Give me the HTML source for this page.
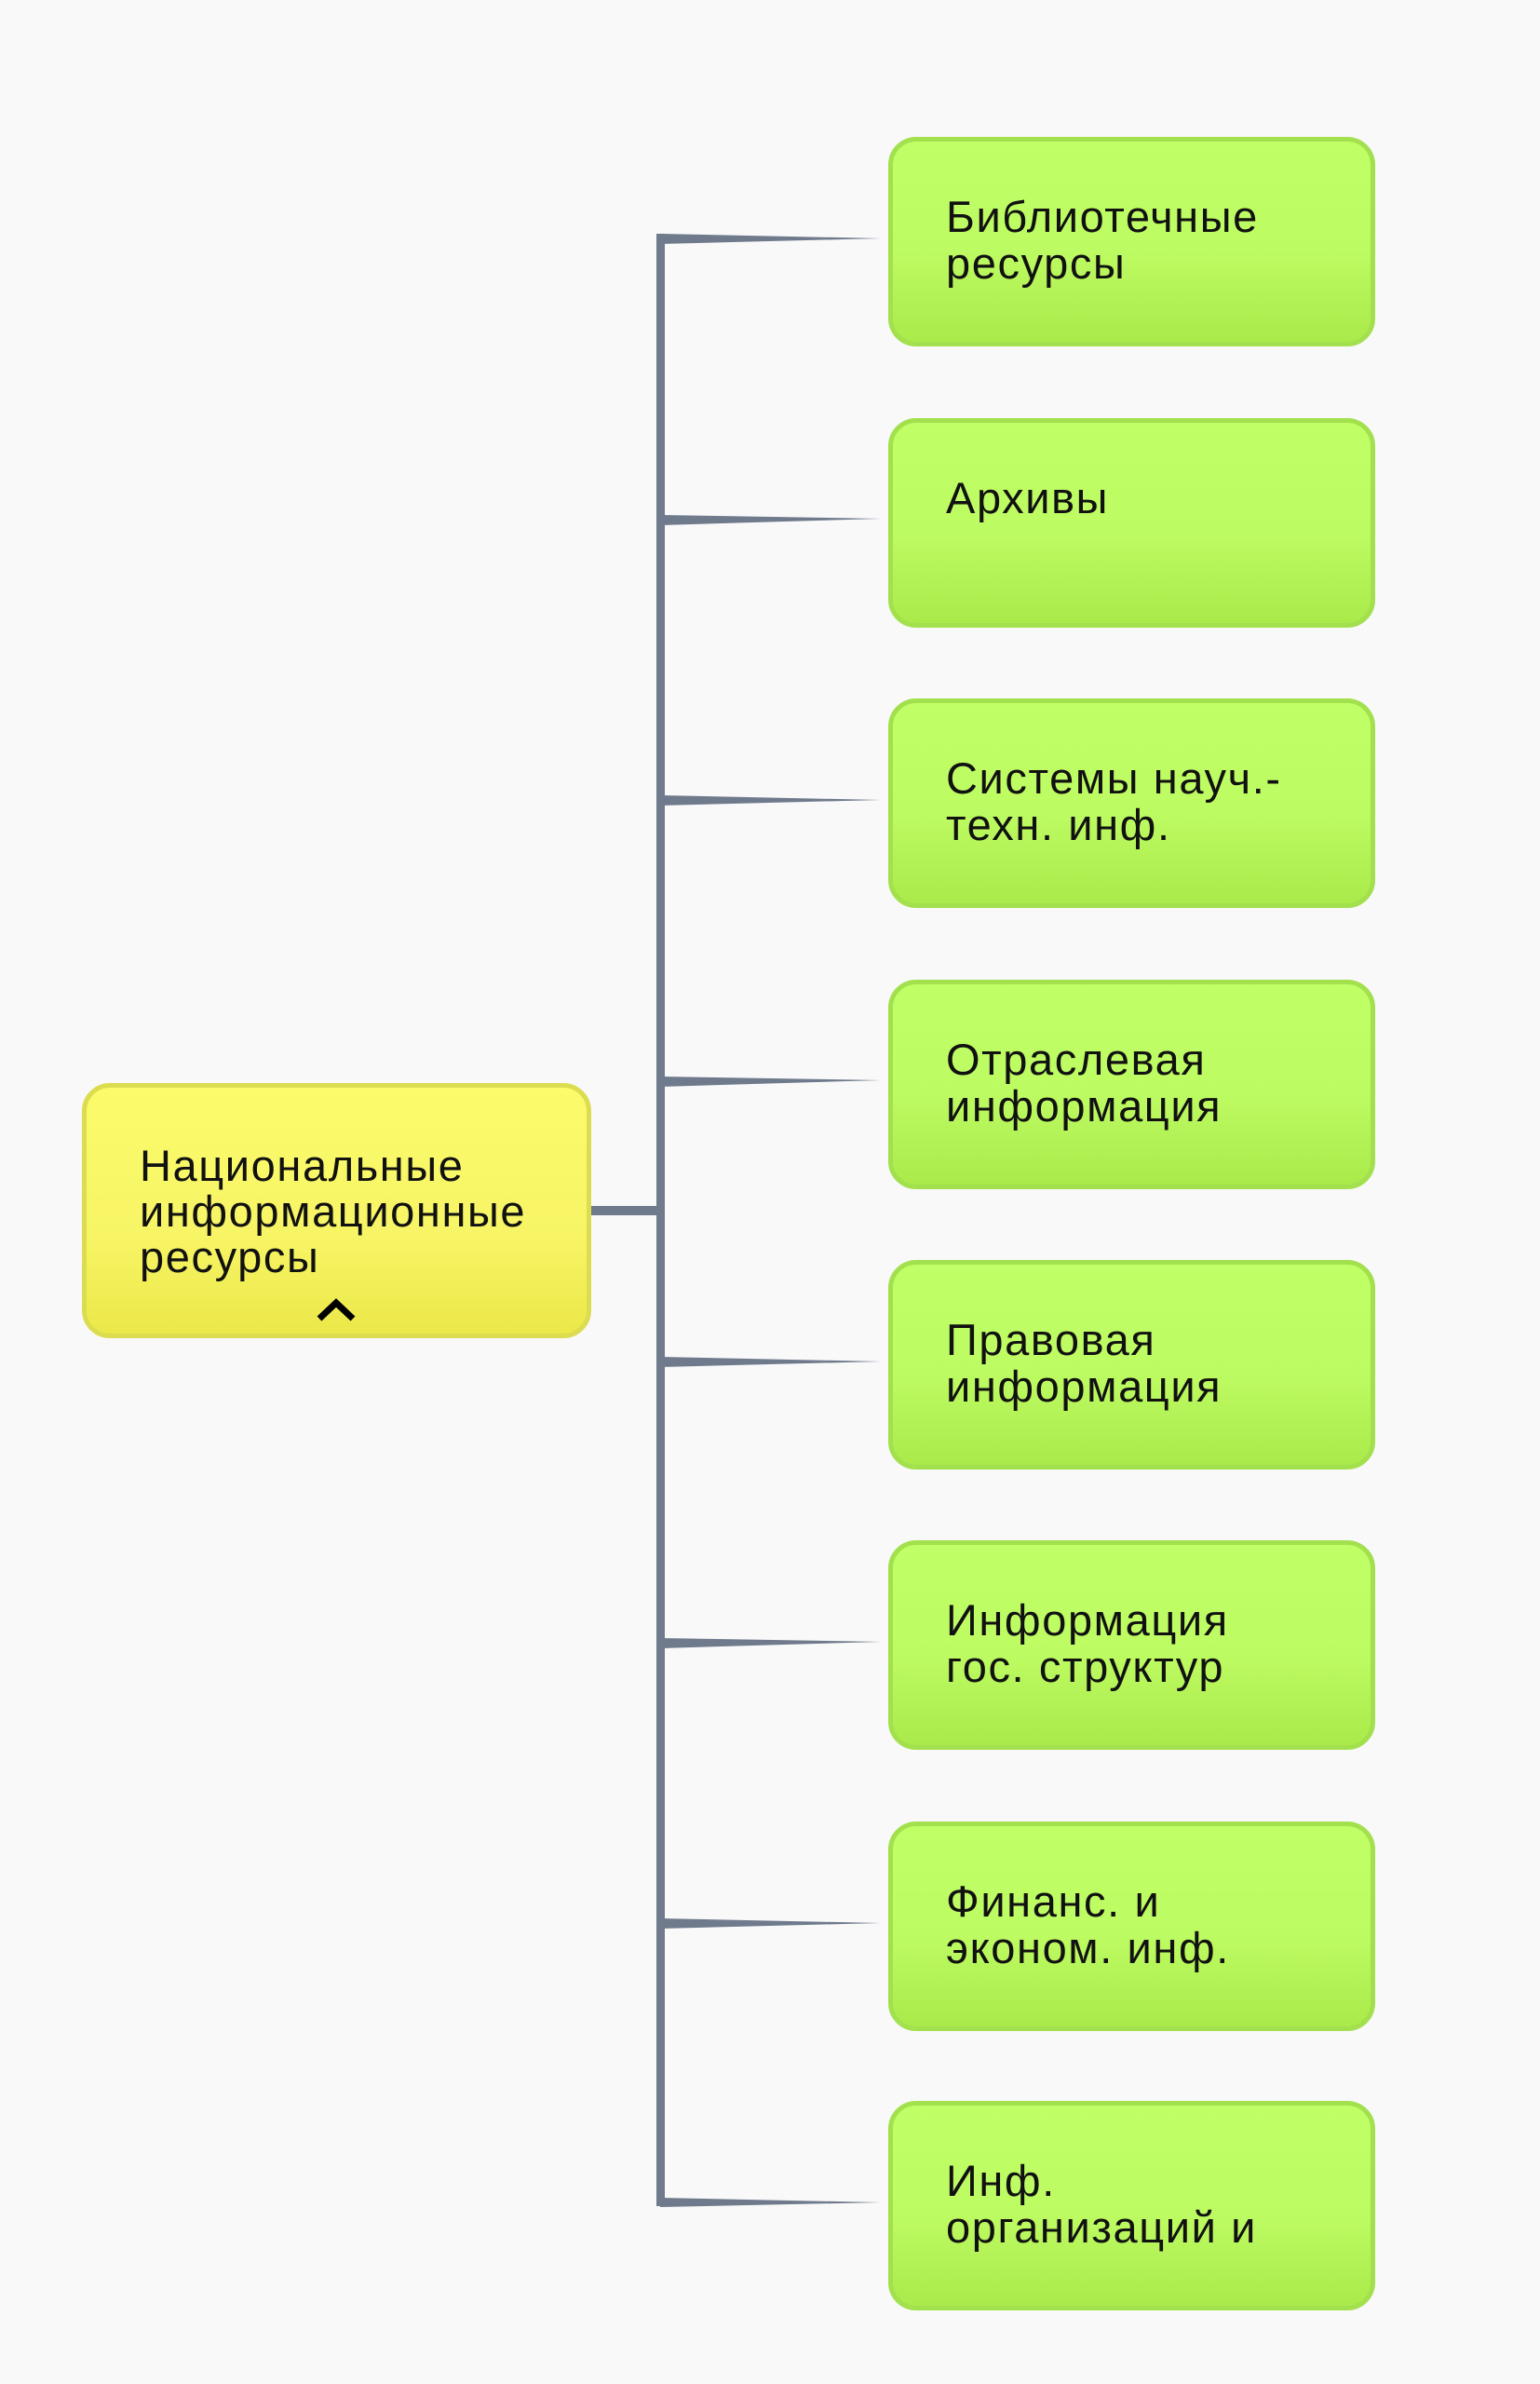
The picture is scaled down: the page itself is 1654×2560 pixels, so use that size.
<!DOCTYPE html>
<html><head><meta charset="utf-8"><style>
html,body{margin:0;padding:0;}
body{width:1654px;height:2560px;background:#f9f9f9;position:relative;overflow:hidden;font-family:"Liberation Sans","DejaVu Sans",sans-serif;}
.g{position:absolute;left:954px;width:513px;height:215px;border:5px solid #a2e04e;border-radius:30px;background:linear-gradient(#c0ff66 0%,#bdfb62 55%,#aaea4a 100%);box-sizing:content-box;}
.g div{position:absolute;left:57px;top:56px;font-size:47px;line-height:50px;color:#111;letter-spacing:1.6px;}
.y{position:absolute;left:88px;top:1163px;width:537px;height:264px;border:5px solid #dcdc50;border-radius:30px;background:linear-gradient(#fbfb6c 0%,#f7f565 60%,#ebe84a 100%);}
.y div{position:absolute;left:57px;top:59px;font-size:47px;line-height:49px;color:#111;letter-spacing:1.6px;}
svg{position:absolute;left:0;top:0;}
</style></head><body>
<svg width="1654" height="2560">
<g fill="#6f7a8c">
<rect x="705" y="251" width="9" height="2118"/>
<rect x="633" y="1295" width="80" height="10"/>
<polygon points="709,251 946,256 709,262"/>
<polygon points="709,553 946,557 709,564"/>
<polygon points="709,854 946,859 709,865"/>
<polygon points="709,1156 946,1160 709,1167"/>
<polygon points="709,1457 946,1462 709,1468"/>
<polygon points="709,1759 946,1763 709,1770"/>
<polygon points="709,2060 946,2065 709,2071"/>
<polygon points="709,2360 946,2365 709,2370"/>
</g>
</svg>
<div class="y"><div>Национальные<br>информационные<br>ресурсы</div>
<svg width="60" height="40" style="left:240px;top:216px"><polyline points="10,32 28,15 46,32" fill="none" stroke="#000" stroke-width="7"/></svg></div>
<div class="g" style="top:147px"><div>Библиотечные<br>ресурсы</div></div>
<div class="g" style="top:449px"><div>Архивы</div></div>
<div class="g" style="top:750px"><div>Системы науч.-<br>техн. инф.</div></div>
<div class="g" style="top:1052px"><div>Отраслевая<br>информация</div></div>
<div class="g" style="top:1353px"><div>Правовая<br>информация</div></div>
<div class="g" style="top:1654px"><div>Информация<br>гос. структур</div></div>
<div class="g" style="top:1956px"><div>Финанс. и<br>эконом. инф.</div></div>
<div class="g" style="top:2256px"><div>Инф.<br>организаций и</div></div>
</body></html>
